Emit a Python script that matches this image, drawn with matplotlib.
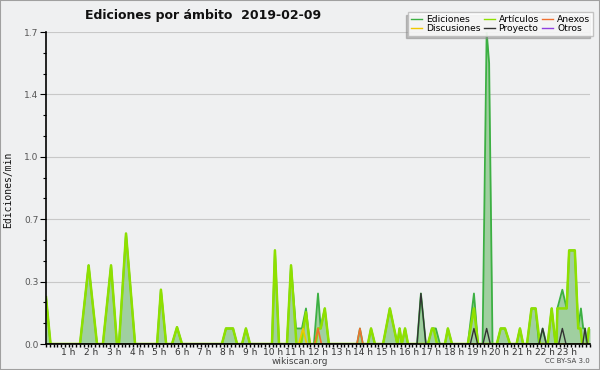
import numpy as np
import matplotlib
matplotlib.use('Agg')
import matplotlib.pyplot as plt
from matplotlib.patches import Rectangle
from matplotlib.ticker import MultipleLocator

# total edits per minute (Ediciones), keypoints
total_h = [0.0, 0.2, 1.50, 1.88, 2.25, 2.51, 2.87, 3.13, 3.22, 3.53, 3.93, 4.90, 5.07, 5.30,
           5.56, 5.78, 6.00, 7.76, 7.94, 8.25, 8.43, 8.65, 8.82, 9.00, 9.97, 10.10, 10.28,
           10.63, 10.81, 11.03, 11.29, 11.47, 11.64, 11.82, 12.00, 12.12, 12.30, 12.48,
           13.72, 13.85, 13.98, 14.20, 14.34, 14.51, 14.87, 15.17, 15.50, 15.60, 15.70,
           15.84, 15.97, 16.37, 16.54, 16.76, 16.85, 17.03, 17.20, 17.38, 17.60, 17.73,
           17.91, 18.61, 18.88, 19.06, 19.26, 19.44, 19.55, 19.70, 19.89, 20.06, 20.25,
           20.47, 20.76, 20.91, 21.05, 21.22, 21.42, 21.60, 21.75, 21.91, 22.08, 22.13,
           22.31, 22.48, 22.52, 22.56, 22.78, 22.97, 23.08, 23.33, 23.48, 23.60, 23.70,
           23.78, 23.86, 23.95, 24.0]
total_v = [0.25, 0, 0, 0.42, 0, 0, 0.42, 0, 0, 0.59, 0, 0, 0.29, 0,
           0, 0.09, 0, 0, 0.083, 0.083, 0, 0, 0.083, 0, 0, 0.5, 0,
           0, 0.42, 0.083, 0.083, 0.19, 0, 0, 0.27, 0.083, 0.19, 0,
           0, 0.083, 0, 0, 0.083, 0, 0, 0.19, 0, 0.083, 0,
           0.083, 0, 0, 0.27, 0, 0, 0.083, 0.083, 0, 0, 0.083,
           0, 0, 0.27, 0, 0, 1.67, 1.50, 0, 0, 0.083, 0.083,
           0, 0, 0.083, 0, 0, 0.19, 0.19, 0, 0.083, 0, 0,
           0.19, 0, 0, 0.19, 0.29, 0.19, 0.5, 0.5, 0.09, 0.19, 0.083,
           0.083, 0, 0.083, 0.083]

# Artículos
art_h = [0.0, 0.2, 1.50, 1.88, 2.25, 2.51, 2.87, 3.13, 3.22, 3.53, 3.93, 4.90, 5.07, 5.30,
         5.56, 5.78, 6.00, 7.76, 7.94, 8.25, 8.43, 8.65, 8.82, 9.00, 9.97, 10.10, 10.28,
         10.63, 10.81, 11.05, 11.25, 11.47, 11.64, 11.90, 12.00, 12.12, 12.30, 12.48,
         14.20, 14.34, 14.51, 14.87, 15.17, 15.50, 15.60, 15.70, 15.84, 15.97, 16.85,
         17.03, 17.10, 17.25, 17.60, 17.73, 17.91, 18.61, 18.88, 19.06, 19.89, 20.06,
         20.25, 20.47, 20.76, 20.91, 21.05, 21.22, 21.42, 21.60, 21.79, 22.13, 22.31,
         22.48, 22.52, 22.56, 22.97, 23.08, 23.33, 23.48, 23.58, 23.66, 23.88, 23.95, 24.0]
art_v = [0.25, 0, 0, 0.42, 0, 0, 0.42, 0, 0, 0.59, 0, 0, 0.29, 0,
         0, 0.09, 0, 0, 0.083, 0.083, 0, 0, 0.083, 0, 0, 0.5, 0,
         0, 0.42, 0, 0, 0.17, 0, 0, 0.083, 0.083, 0.19, 0,
         0, 0.083, 0, 0, 0.19, 0, 0.083, 0, 0.083, 0, 0,
         0.083, 0.083, 0, 0, 0.083, 0, 0, 0.19, 0, 0, 0.083,
         0.083, 0, 0, 0.083, 0, 0, 0.19, 0.19, 0, 0, 0.19,
         0, 0, 0.19, 0.19, 0.5, 0.5, 0.083, 0.083, 0, 0, 0.083, 0.083]

# Anexos
anx_h = [0.0, 11.85, 12.00, 12.15, 13.72, 13.85, 13.98, 24.0]
anx_v = [0, 0, 0.083, 0, 0, 0.083, 0, 0]

# Discusiones
dis_h = [0.0, 11.15, 11.34, 11.50, 24.0]
dis_v = [0, 0, 0.083, 0, 0]

# Proyecto
pro_h = [0.0, 16.37, 16.54, 16.76, 18.72, 18.88, 19.04, 19.28, 19.44, 19.60, 21.75, 21.91,
         22.07, 22.62, 22.78, 22.94, 23.68, 23.78, 23.88, 24.0]
pro_v = [0, 0, 0.27, 0, 0, 0.083, 0, 0, 0.083, 0, 0, 0.083,
         0, 0, 0.083, 0, 0, 0.083, 0, 0]

# Otros
otr_h = [0.0, 24.0]
otr_v = [0, 0]

hour_ticks = list(range(1, 24))
hour_labels = ['%d h' % h for h in hour_ticks]
y_ticks = [0, 1 / 3, 2 / 3, 1.0, 4 / 3, 5 / 3]
y_labels = ['0.0', '0.3', '0.7', '1.0', '1.4', '1.7']

bg = '#eff0f1'
fig = plt.figure(figsize=(6, 3.7), dpi=100, facecolor=bg)
ax = fig.add_axes([46 / 600, 26 / 370, 544 / 600, 312 / 370], facecolor=bg)

ax.fill_between(total_h, total_v, color='#a0cfa0', lw=0, zorder=2)
l_tot, = ax.plot(total_h, total_v, color='#3cb043', lw=1.3, zorder=3, label='Ediciones')
l_art, = ax.plot(art_h, art_v, color='#8ee000', lw=1.8, zorder=4, label='Artículos')
l_anx, = ax.plot(anx_h, anx_v, color='#f07030', lw=1.2, zorder=5, label='Anexos')
l_dis, = ax.plot(dis_h, dis_v, color='#f0c800', lw=1.2, zorder=5, label='Discusiones')
l_pro, = ax.plot(pro_h, pro_v, color='#333333', lw=1.0, zorder=6, label='Proyecto')
l_otr, = ax.plot(otr_h, otr_v, color='#9040e0', lw=1.0, zorder=1, label='Otros')

ax.set_xlim(0, 24)
ax.set_ylim(0, 5 / 3)
ax.set_xticks(hour_ticks)
ax.set_xticklabels(hour_labels)
ax.xaxis.set_minor_locator(MultipleLocator(1 / 6))
ax.set_yticks(y_ticks)
ax.set_yticklabels(y_labels)
ax.yaxis.set_minor_locator(MultipleLocator(1 / 9))

for s in ['top', 'right']:
    ax.spines[s].set_visible(False)
for s in ['left', 'bottom']:
    ax.spines[s].set_color('black')
    ax.spines[s].set_linewidth(1.2)
    ax.spines[s].set_zorder(8)
ax.tick_params(axis='x', which='both', direction='out', length=2.5, width=1, pad=0.5,
               labelsize=6.5, labelcolor='#333333')
ax.tick_params(axis='y', which='major', direction='out', length=4.5, width=0.8, pad=1,
               labelsize=6.5, labelcolor='#555555')
ax.tick_params(axis='y', which='minor', direction='out', length=2.5, width=0.8)
ax.grid(axis='y', which='major', color='#c8c8c8', lw=0.8, zorder=0)
ax.set_axisbelow(True)

fig.text(85 / 600, 1 - 15 / 370, 'Ediciones por ámbito  2019-02-09', fontsize=9,
         fontweight='bold', ha='left', va='center', color='#111111')
fig.text(8 / 600, 1 - 190 / 370, 'Ediciones/min', rotation=90, fontsize=7,
         family='DejaVu Sans Mono', ha='center', va='center', color='#111111')
fig.text(300 / 600, 1 - 361 / 370, 'wikiscan.org', fontsize=6.5, ha='center',
         va='center', color='#444444')
fig.text(590 / 600, 1 - 361 / 370, 'CC BY-SA 3.0', fontsize=5, ha='right',
         va='center', color='#444444')

leg = fig.legend([l_tot, l_dis, l_art, l_pro, l_anx, l_otr],
                 ['Ediciones', 'Discusiones', 'Artículos', 'Proyecto', 'Anexos', 'Otros'],
                 loc='upper right', bbox_to_anchor=(593 / 600, 1 - 12 / 370), ncol=3,
                 fontsize=6.6, handlelength=1.2, handletextpad=0.4, columnspacing=0.4,
                 labelspacing=0.0, borderpad=0.3, borderaxespad=0, fancybox=False,
                 framealpha=0.85, facecolor='white', edgecolor='#bbbbbb',
                 shadow={'ox': -2, 'oy': -2, 'color': '#888888'})
for line in leg.get_lines():
    line.set_linewidth(1.0)

fig.add_artist(Rectangle((0, 0), 1, 1, transform=fig.transFigure, fill=False,
                         edgecolor='#a0a0a0', lw=1.5))

fig.savefig('out.png', dpi=100, facecolor=bg)
